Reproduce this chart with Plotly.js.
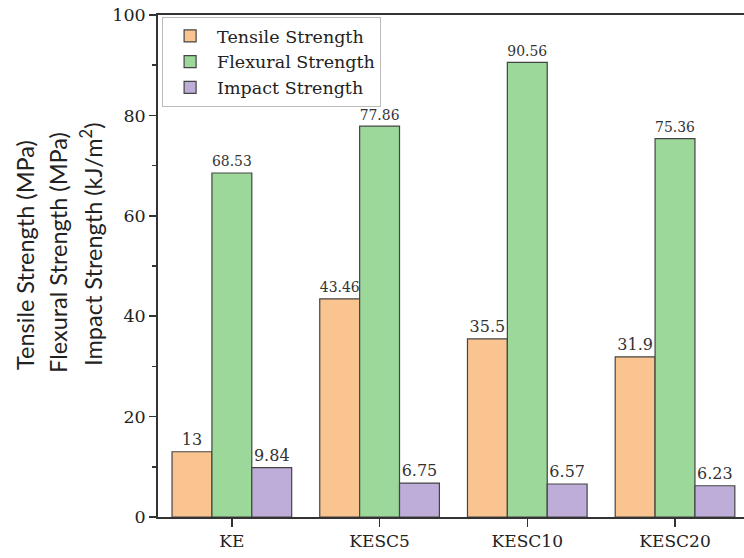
<!DOCTYPE html>
<html>
<head>
<meta charset="utf-8">
<script src="https://cdn.plot.ly/plotly-3.0.1.min.js"></script>
<style>html,body{margin:0;padding:0;background:#fff;}#chart{width:744px;height:558px;}</style>
</head>
<body>
<div id="chart"></div>
<script>
const categories = ["KE", "KESC5", "KESC10", "KESC20"];
const tensile = [13, 43.46, 35.5, 31.9];
const flexural = [68.53, 77.86, 90.56, 75.36];
const impact = [9.84, 6.75, 6.57, 6.23];
const seriesNames = ["Tensile Strength", "Flexural Strength", "Impact Strength"];
const yTicks = [0, 20, 40, 60, 80, 100];

const colors = ["#F9C490", "#9DD89B", "#BEADD8"];
const outline = "#444";
const serif = "DejaVu Serif, Liberation Serif, serif";
const sans = "Lato, Liberation Sans, sans-serif";

function barTrace(vals, name, color) {
  return {
    type: "bar",
    x: categories,
    y: vals,
    name: name,
    text: vals.map(String),
    textposition: "outside",
    cliponaxis: false,
    textfont: {family: serif, size: 16, color: "#333"},
    marker: {color: color, line: {color: outline, width: 1.2}},
    hoverinfo: "x+y"
  };
}

const data = [
  barTrace(tensile, seriesNames[0], colors[0]),
  barTrace(flexural, seriesNames[1], colors[1]),
  barTrace(impact, seriesNames[2], colors[2])
];

const xEnd = 3.467;
const layout = {
  width: 744, height: 558,
  margin: {l: 158, r: 0, t: 15, b: 41},
  paper_bgcolor: "#fff", plot_bgcolor: "#fff",
  barmode: "group", bargap: 0.19, bargroupgap: 0,
  showlegend: true,
  legend: {
    x: 0.007, y: 0.996, xanchor: "left", yanchor: "top",
    bgcolor: "rgba(255,255,255,0.9)", bordercolor: "#bbb", borderwidth: 1,
    font: {family: serif, size: 17.5, color: "#222"},
    itemwidth: 44
  },
  xaxis: {
    type: "category",
    range: [-0.5, xEnd],
    showline: true, linecolor: "#333", linewidth: 1.8,
    mirror: true,
    ticks: "outside", ticklen: 8, tickwidth: 1.5, tickcolor: "#333",
    tickfont: {family: serif, size: 17, color: "#222"},
    showgrid: false, zeroline: false
  },
  xaxis2: {
    overlaying: "x", anchor: "y", side: "bottom",
    range: [-0.5, xEnd],
    tickmode: "array", tickvals: [0.5, 1.5, 2.5],
    ticks: "outside", ticklen: 4, tickwidth: 1.5, tickcolor: "#333",
    showticklabels: false, showline: false, showgrid: false, zeroline: false
  },
  yaxis: {
    range: [0, 100],
    tickmode: "array", tickvals: yTicks,
    showline: true, linecolor: "#333", linewidth: 1.8,
    ticks: "outside", ticklen: 7, tickwidth: 1.5, tickcolor: "#333",
    minor: {dtick: 10, ticks: "outside", ticklen: 4, tickwidth: 1.5, tickcolor: "#333", showgrid: false},
    tickfont: {family: serif, size: 17.5, color: "#222"},
    showgrid: false, zeroline: false
  },
  annotations: [
    {text: "Tensile Strength (MPa)", x: (25 - 158) / 586, y: 0.522},
    {text: "Flexural Strength (MPa)", x: (58 - 158) / 586, y: 0.528},
    {text: "Impact Strength (kJ/m<sup>2</sup>)", x: (92 - 158) / 586, y: 0.542}
  ].map(a => Object.assign({
    xref: "paper", yref: "paper", xanchor: "center", yanchor: "middle",
    textangle: -90, showarrow: false,
    font: {family: sans, size: 23.5, color: "#222"}
  }, a))
};

Plotly.newPlot("chart", data, layout, {displayModeBar: false, staticPlot: true});
</script>
</body>
</html>
